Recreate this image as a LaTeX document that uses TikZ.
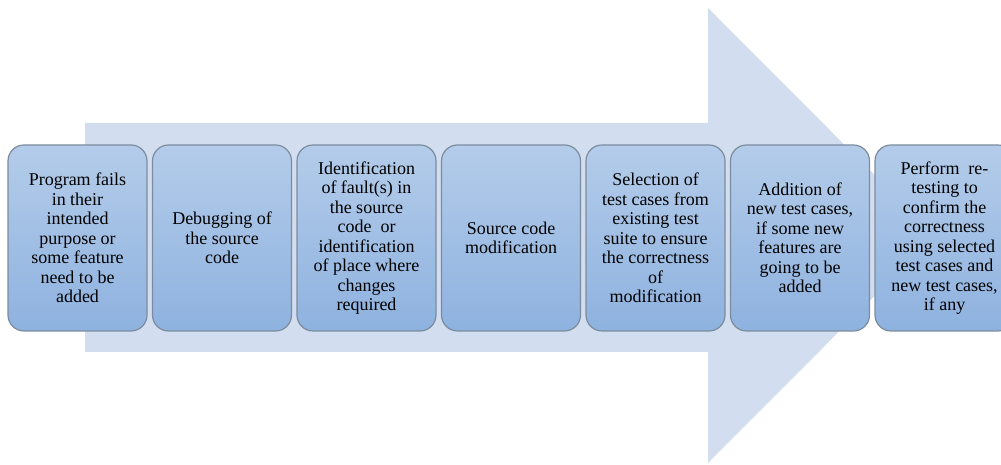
\documentclass[tikz,border=0pt]{standalone}
\usepackage{fontspec}
\setmainfont{LiberationSerif-Regular.ttf}
\usetikzlibrary{positioning}
\definecolor{arrowfill}{HTML}{D2DEEF}
\definecolor{boxtop}{HTML}{B4CCEA}
\definecolor{boxbottom}{HTML}{8EB2DF}
\definecolor{boxline}{HTML}{7C8C9E}
\begin{document}
\begin{tikzpicture}[x=1pt,y=1pt,node distance=5.5pt,
                stepbox/.style={rectangle,rounded corners=16pt,draw=boxline,line width=1.2pt,
                  top color=boxtop,bottom color=boxbottom,minimum width=139pt,minimum height=186pt,
                  inner sep=0pt,outer sep=0pt,align=center,font=\fontsize{18}{19.5}\selectfont}]
  \useasboundingbox (0,0) rectangle (1001,465);
  \clip (0,0) rectangle (1001,465);
  % big arrow behind the steps
  \fill[arrowfill] (85,113) -- (85,342) -- (708,342) -- (708,457) -- (935,229.5)
    -- (708,2) -- (708,113) -- cycle;

  \node[stepbox] (1) at (77.5,227) {Program fails\\in their\\intended\\purpose or\\some feature\\need to be\\added};
  \node[stepbox] (2) [right=of 1] {Debugging of\\the source\\code};
  \node[stepbox] (3) [right=of 2] {Identification\\of fault(s) in\\the source\\code\ \ or\\identification\\of place where\\changes\\required};
  \node[stepbox] (4) [right=of 3] {Source code\\modification};
  \node[stepbox] (5) [right=of 4] {Selection of\\test cases from\\existing test\\suite to ensure\\the correctness\\of\\modification};
  \node[stepbox] (6) [right=of 5] {Addition of\\new test cases,\\if some new\\features are\\going to be\\added};
  \node[stepbox] (7) [right=of 6] {Perform\ \ re-\\testing to\\confirm the\\correctness\\using selected\\test cases and\\new test cases,\\if any};
\end{tikzpicture}
\end{document}
